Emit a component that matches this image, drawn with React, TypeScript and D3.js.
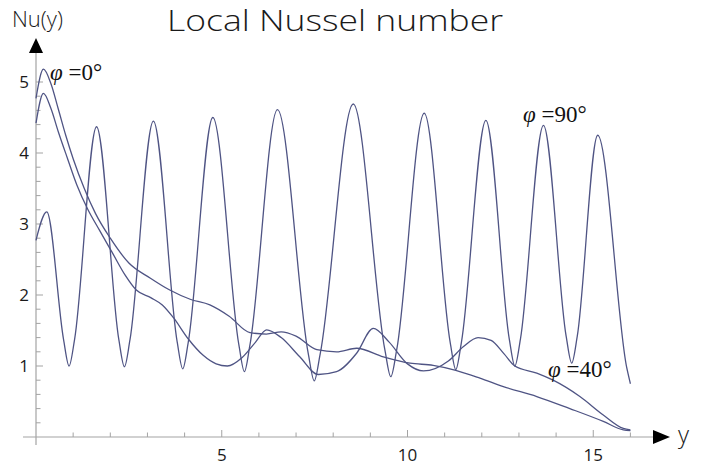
import React from 'react'
import * as d3 from 'd3'

// phi = 0 deg, smooth curve
const phi0X = [0, 0.2, 0.4, 0.6, 0.8, 1.0, 1.3, 1.6, 2.0, 2.5, 3.07, 3.6, 4.15, 4.68, 5.2, 5.76, 6.2, 6.6, 7.0, 7.56, 8.09, 8.63, 9.35, 10.07, 10.69, 11.3, 11.95, 12.58, 13.48, 14.37, 15.27, 15.81, 16]
const phi0Y = [4.77, 5.18, 4.98, 4.62, 4.25, 3.92, 3.5, 3.15, 2.8, 2.45, 2.24, 2.07, 1.94, 1.86, 1.7, 1.47, 1.45, 1.48, 1.42, 1.23, 1.2, 1.25, 1.13, 1.04, 1.01, 0.94, 0.83, 0.71, 0.57, 0.4, 0.22, 0.1, 0.09]

// phi = 40 deg, wavy curve
const phi40X = [0, 0.2, 0.4, 0.6, 0.85, 1.1, 1.4, 1.7, 2.05, 2.4, 2.7, 3.1, 3.4, 3.7, 4.1, 4.5, 4.85, 5.15, 5.55, 5.9, 6.21, 6.6, 7.1, 7.6, 8.09, 8.63, 9.08, 9.5, 10.0, 10.43, 11.1, 11.5, 11.9, 12.25, 12.6, 12.89, 13.48, 13.92, 14.64, 15.27, 15.81, 16]
const phi40Y = [4.42, 4.84, 4.63, 4.3, 3.92, 3.55, 3.2, 2.92, 2.6, 2.28, 2.07, 1.96, 1.86, 1.68, 1.38, 1.15, 1.03, 1.0, 1.12, 1.33, 1.51, 1.4, 1.13, 0.88, 0.92, 1.18, 1.53, 1.34, 1.03, 0.93, 1.07, 1.27, 1.4, 1.36, 1.17, 1.0, 0.9, 0.8, 0.57, 0.31, 0.12, 0.1]

// phi = 90 deg, oscillating curve
const phi90X = [0, 0.29, 0.74, 0.89, 1.04, 1.63, 2.23, 2.38, 2.53, 3.16, 3.8, 3.95, 4.1, 4.76, 5.46, 5.61, 5.76, 6.5, 7.33, 7.49, 7.65, 8.54, 9.39, 9.55, 9.71, 10.45, 11.15, 11.3, 11.45, 12.11, 12.74, 12.89, 13.04, 13.66, 14.27, 14.42, 14.57, 15.12, 15.9, 16]
const phi90Y = [2.77, 3.17, 1.38, 1.0, 1.38, 4.37, 1.37, 0.99, 1.37, 4.45, 1.34, 0.96, 1.34, 4.5, 1.3, 0.92, 1.3, 4.61, 1.17, 0.79, 1.17, 4.69, 1.23, 0.85, 1.23, 4.56, 1.33, 0.95, 1.33, 4.46, 1.38, 1.0, 1.38, 4.39, 1.42, 1.04, 1.42, 4.25, 0.98, 0.75]

const yTicks = [1, 2, 3, 4, 5]
const xTicks = [5, 10, 15]

const W = 710
const H = 466
const curveColor = '#4f5484'
const axisColor = '#a3a3a3'

export default function App () {
  const x = d3.scaleLinear().domain([0, 16]).range([36, 630.4])
  const y = d3.scaleLinear().domain([0, 5]).range([437, 82])

  const line = d3.line<[number, number]>()
    .x(d => x(d[0]))
    .y(d => y(d[1]))
    .curve(d3.curveMonotoneX)

  const series = [
    phi0X.map((v, i) => [v, phi0Y[i]] as [number, number]),
    phi40X.map((v, i) => [v, phi40Y[i]] as [number, number]),
    phi90X.map((v, i) => [v, phi90Y[i]] as [number, number])
  ]

  const yMinor = d3.range(1, 26).map(i => i * 0.2)
  const xMinor = d3.range(1, 17)

  return (
    <svg width={W} height={H} style={{ position: 'absolute', left: 0, top: 0, background: '#fff' }}>
      {/* title */}
      <text x={167} y={31} fontFamily="'Open Sans', sans-serif" fontWeight={300} fontSize={30}
        textLength={336} lengthAdjust="spacingAndGlyphs" fill="#1a1a1a">Local Nussel number</text>
      <text x={12} y={27} fontFamily="'Open Sans', sans-serif" fontWeight={300} fontSize={22} fill="#1a1a1a">Nu(y)</text>

      {/* axes */}
      <line x1={x(0)} x2={x(0)} y1={445} y2={50} stroke={axisColor} strokeWidth={1.2} />
      <line x1={23} x2={656} y1={y(0)} y2={y(0)} stroke={axisColor} strokeWidth={1.2} />
      <path d={`M${x(0)},38 L${x(0) - 7},53 L${x(0) + 7},53 Z`} fill="#000" />
      <path d={`M670,${y(0)} L653,${y(0) - 7} L653,${y(0) + 7} Z`} fill="#000" />
      <text x={678} y={443} fontFamily="'Open Sans', sans-serif" fontWeight={300} fontSize={24} fill="#1a1a1a">y</text>

      {yMinor.map(v => {
        const major = Math.abs(v - Math.round(v)) < 1e-6
        return <line key={'ym' + v} x1={x(0)} x2={x(0) + (major ? 7 : 4.5)} y1={y(v)} y2={y(v)} stroke={axisColor} strokeWidth={1} />
      })}
      {xMinor.map(v => {
        const major = v % 5 === 0
        return <line key={'xm' + v} x1={x(v)} x2={x(v)} y1={y(0)} y2={y(0) - (major ? 7 : 4.5)} stroke={axisColor} strokeWidth={1} />
      })}
      {yTicks.map(v => (
        <text key={'yl' + v} x={29} y={y(v)} dy="0.36em" textAnchor="end" fontFamily="'Open Sans', sans-serif" fontSize={17} fill="#1a1a1a">{v}</text>
      ))}
      {xTicks.map(v => (
        <text key={'xl' + v} x={x(v)} y={461} textAnchor="middle" fontFamily="'Open Sans', sans-serif" fontSize={17} fill="#1a1a1a">{v}</text>
      ))}

      {/* curves */}
      {series.map((s, i) => (
        <path key={'c' + i} d={line(s) || ''} fill="none" stroke={curveColor} strokeWidth={1.3} />
      ))}

      {/* labels */}
      <text x={50} y={80} fontFamily="'Liberation Serif', serif" fontSize={23} fill="#111">
        <tspan fontStyle="italic">φ</tspan> =0°
      </text>
      <text x={523} y={122} fontFamily="'Liberation Serif', serif" fontSize={23} fill="#111">
        <tspan fontStyle="italic">φ</tspan> =90°
      </text>
      <text x={548} y={377} fontFamily="'Liberation Serif', serif" fontSize={23} fill="#111">
        <tspan fontStyle="italic">φ</tspan> =40°
      </text>
    </svg>
  )
}
